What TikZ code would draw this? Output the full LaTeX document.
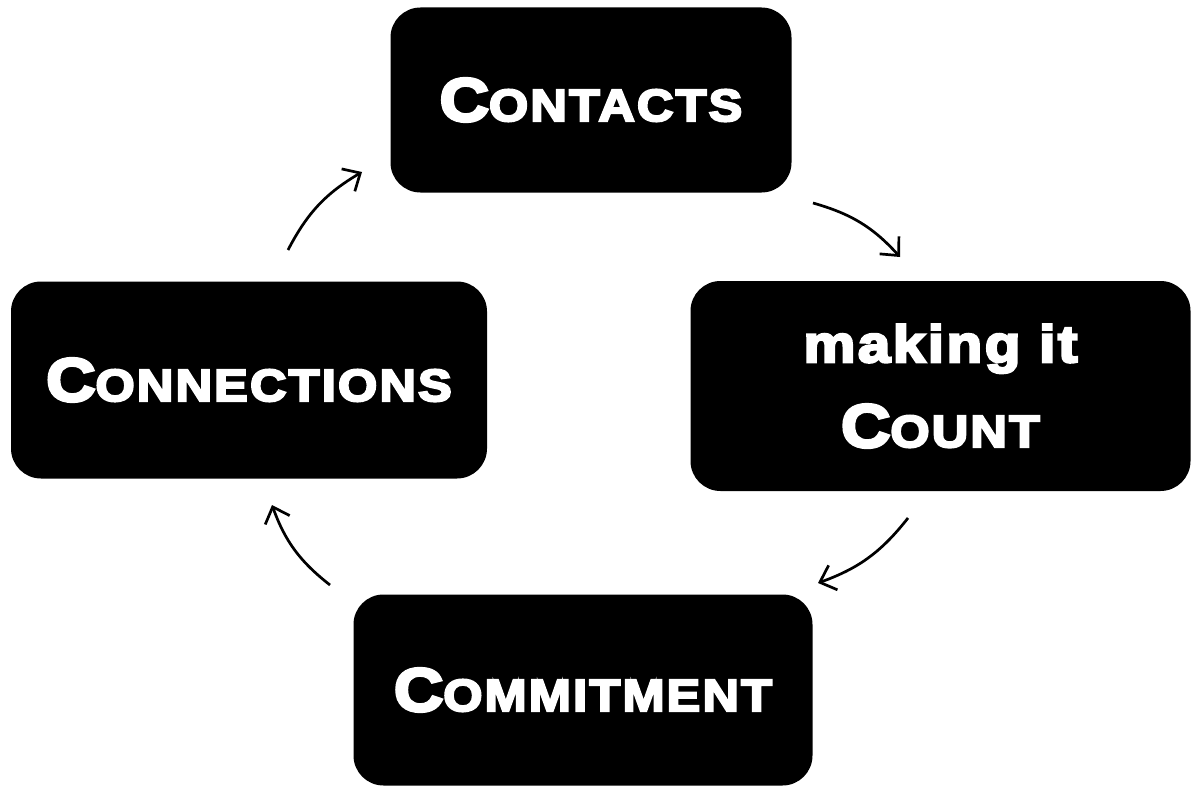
\documentclass[tikz,border=0pt]{standalone}
\usepackage{fontspec}
\setmainfont{Liberation Sans}[BoldFeatures={FakeBold=5,FakeStretch=1.12,LetterSpace=5}]
\usetikzlibrary{arrows.meta}
\newcommand\smcaps[2]{{\fontsize{61}{63}\selectfont #1}{\fontsize{45}{47}\selectfont #2}}
\tikzset{
  box/.style={fill=black, rounded corners=30pt, inner sep=0pt, text=white,
    font=\bfseries, align=center},
  flow/.style={line width=2.7pt, -{Straight Barb[length=14pt,width=26pt,line width=2.7pt]}, bend left=16}
}
\begin{document}
\begin{tikzpicture}[x=1pt,y=-1pt]
\useasboundingbox (0,0) rectangle (1191,789);
\node[box, minimum width=401pt, minimum height=185pt] (contacts) at (591,100) {\smcaps{C}{ONTACTS}};
\node[box, minimum width=500pt, minimum height=210pt, font=\bfseries\fontsize{52}{85}\selectfont] (count) at (940.5,386) {making it\\ \smcaps{C}{OUNT}};
\node[box, minimum width=476pt, minimum height=197pt] (connections) at (249,380) {\smcaps{C}{ONNECTIONS}};
\node[box, minimum width=459pt, minimum height=191pt] (commitment) at (583,690) {\smcaps{C}{OMMITMENT}};
\coordinate (a1s) at (813,203); \coordinate (a1e) at (900,257);
\coordinate (a2s) at (908,518); \coordinate (a2e) at (818,583);
\coordinate (a3s) at (330,585); \coordinate (a3e) at (272,505);
\coordinate (a4s) at (288,250); \coordinate (a4e) at (362,172);
\draw[flow] (a1s) to (a1e);
\draw[flow] (a2s) to (a2e);
\draw[flow] (a3s) to (a3e);
\draw[flow] (a4s) to (a4e);
\end{tikzpicture}
\end{document}
